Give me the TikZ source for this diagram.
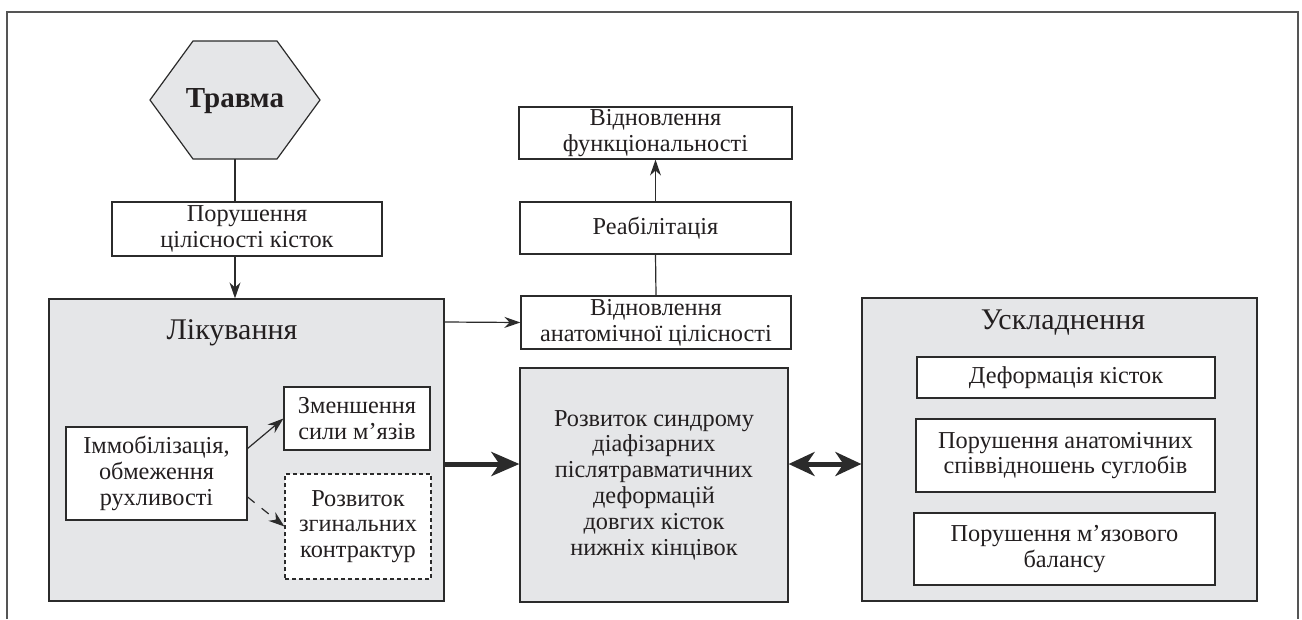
\documentclass[tikz,border=0pt]{standalone}
\usepackage{fontspec}
\setmainfont{Liberation Serif}
\usetikzlibrary{arrows.meta,calc}
\definecolor{linec}{HTML}{2B2B2B}
\definecolor{framec}{HTML}{555555}
\definecolor{greyf}{HTML}{E5E6E8}
\definecolor{textc}{HTML}{231F20}
\tikzset{
  box/.style={draw=linec, fill=white, line width=1.2pt, align=center, inner sep=0pt, text=textc,
    font=\fontsize{24.3}{25.8}\selectfont, rectangle},
  gbox/.style={box, fill=greyf},
  dbox/.style={box, dash pattern=on 4pt off 3pt},
  title/.style={text=textc, font=\fontsize{30}{34}\selectfont, inner sep=0pt},
  conn/.style={draw=linec, line width=1.2pt},
  arr/.style={conn, -{Stealth[length=16pt,width=11pt]}},
  thickarr/.style={draw=linec, line width=5pt, -{Stealth[length=28pt,width=24pt,inset=8pt]}},
  dblarr/.style={draw=linec, line width=5pt, {Stealth[length=26pt,width=24pt,inset=8pt]}-{Stealth[length=26pt,width=24pt,inset=8pt]}},
}
\begin{document}
\begin{tikzpicture}[x=1pt,y=-1pt]
\useasboundingbox (0,0) rectangle (1302,619);
% outer frame
\draw[framec, line width=1.8pt] (7,619) -- (7,12) -- (1298,12) -- (1298,619);
% hexagon
\draw[linec, fill=greyf, line width=1.2pt] (150,100) -- (193,41) -- (277,41) -- (320,100) -- (277,159) -- (193,159) -- cycle;
\node[text=textc, font=\fontsize{29}{32}\selectfont\bfseries, inner sep=0pt] (trauma) at (235,101) {Травма};
\coordinate (hb) at (235,159);
% boxes
\node[box, minimum width=270pt, minimum height=54pt] (pkb) at (247,229) {Порушення\\цілісності кісток};
\node[gbox, minimum width=395pt, minimum height=302pt] (lik) at (246.5,450) {};
\node[title] (likt) at (232,333) {Лікування};
\node[box, minimum width=181pt, minimum height=93pt] (immob) at (156.5,473.5) {Іммобілізація,\\обмеження\\рухливості};
\node[box, minimum width=146pt, minimum height=63pt] (zmen) at (357,418.5) {Зменшення\\сили м’язів};
\node[dbox, minimum width=146pt, minimum height=105pt] (rozv) at (358,526.5) {Розвиток\\згинальних\\контрактур};
\node[box, minimum width=273pt, minimum height=52pt] (vfun) at (655.5,133) {Відновлення\\функціональності};
\node[box, minimum width=271pt, minimum height=52pt] (reab) at (655.5,228) {Реабілітація};
\node[box, minimum width=270pt, minimum height=53pt] (vanat) at (656,322.5) {Відновлення\\анатомічної цілісності};
\node[gbox, minimum width=268pt, minimum height=234pt] (mid) at (654,485) {Розвиток синдрому\\діафізарних\\післятравматичних\\деформацій\\довгих кісток\\нижніх кінцівок};
\node[gbox, minimum width=395pt, minimum height=303pt] (uskl) at (1059.5,449.5) {};
\node[title] (usklt) at (1063,323) {Ускладнення};
\node[box, minimum width=298pt, minimum height=41pt] (def) at (1066,377.5) {Деформація кісток};
\node[box, minimum width=299pt, minimum height=73pt] (pan) at (1065.5,455.5) {Порушення анатомічних\\співвідношень суглобів};
\node[box, minimum width=301pt, minimum height=72pt] (pmb) at (1064.5,549) {Порушення м’язового\\балансу};
% connectors
\draw[conn] (hb) -- (hb |- pkb.north);
\draw[arr] (hb |- pkb.south) -- (hb |- lik.north);
\draw[arr] ([yshift=25pt]immob.east) -- (zmen.west);
\draw[conn, dash pattern=on 9pt off 9pt, -{Stealth[length=16pt,width=11pt]}] ([yshift=-23.5pt]immob.east) -- (rozv.west);
\draw[arr] ([yshift=128pt]lik.east) -- (vanat.west);
\draw[conn] (vanat.north) -- (reab.south);
\draw[arr] (reab.north) -- (vfun.south);
\draw[thickarr] ([yshift=-14pt]lik.east) -- ([yshift=21pt]mid.west);
\draw[dblarr] ([yshift=21pt]mid.east) -- ([yshift=-14.5pt]uskl.west);
\end{tikzpicture}
\end{document}
